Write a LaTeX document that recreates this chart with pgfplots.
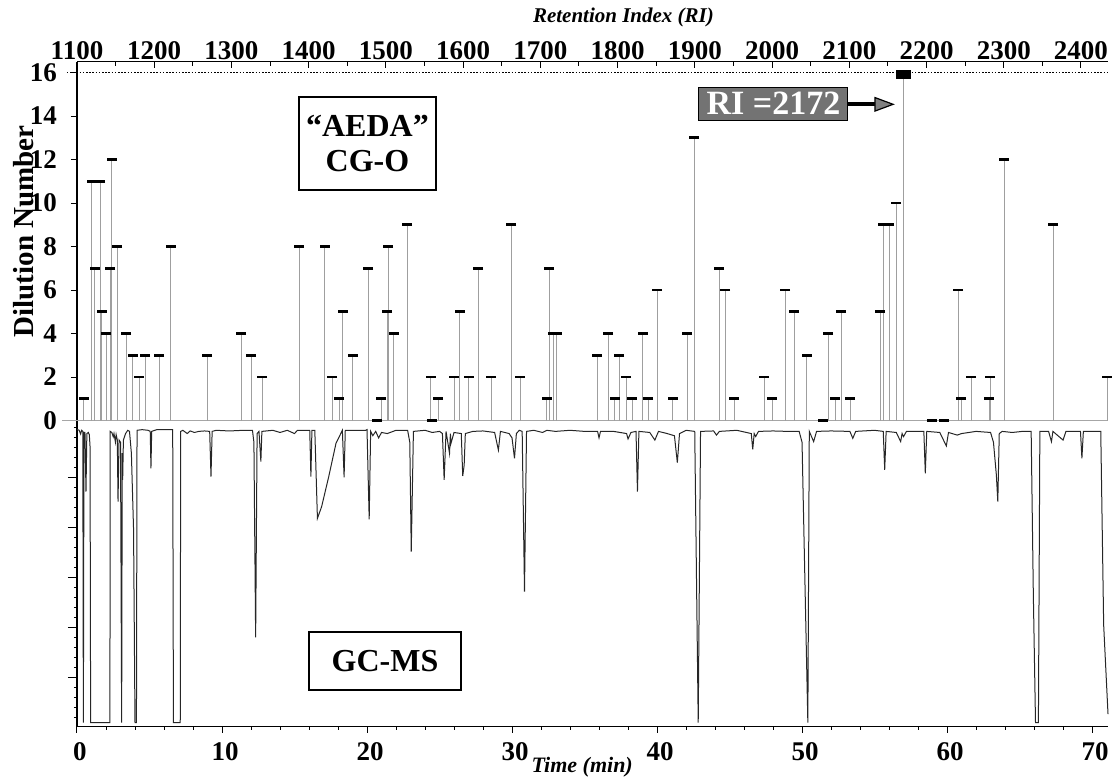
\documentclass[border=0pt]{standalone}
\usepackage{fontspec}
\setmainfont{Liberation Serif}
\usepackage{pgfplots}
\pgfplotsset{compat=1.18}
\usepackage{pgfplotstable}

% AEDA: time (min), dilution number
\pgfplotstableread{
t d
0.48 1
1.03 11
1.24 7
1.59 11
1.72 5
2.00 4
2.28 7
2.41 12
2.76 8
3.38 4
3.86 3
4.28 2
4.69 3
5.66 3
6.48 8
8.97 3
11.31 4
12.00 3
12.76 2
15.31 8
17.10 8
17.59 2
18.07 1
18.34 5
19.03 3
20.07 7
20.69 0
20.97 1
21.38 5
21.45 8
21.86 4
22.76 9
24.41 2
24.48 0
24.90 1
26.00 2
26.41 5
27.03 2
27.66 7
28.55 2
29.93 9
30.55 2
32.41 1
32.55 7
32.83 4
33.10 4
35.86 3
36.62 4
37.10 1
37.38 3
37.86 2
38.28 1
39.03 4
39.38 1
40.00 6
41.10 1
42.07 4
42.55 13
44.28 7
44.69 6
45.31 1
47.38 2
47.93 1
48.83 6
49.45 5
50.34 3
51.45 0
51.79 4
52.28 1
52.69 5
53.31 1
55.38 5
55.59 9
56.00 9
56.48 10
56.97 16
58.97 0
59.79 0
60.76 6
60.97 1
61.66 2
62.90 1
62.97 2
63.93 12
67.31 9
71.03 2
}\aeda

% GC-MS trace (drawn downwards)
\pgfplotstableread{
t s
0.00 -0.41
0.15 -0.45
0.25 -0.62
0.32 -0.45
0.40 -0.50
0.44 -13.89
0.48 -0.55
0.55 -0.55
0.62 -3.27
0.68 -0.60
0.78 -0.55
0.85 -0.65
0.90 -1.20
0.94 -13.89
2.27 -13.89
2.29 -0.50
2.40 -0.55
2.50 -0.75
2.55 -0.60
2.65 -1.00
2.70 -0.65
2.78 -0.90
2.83 -3.73
2.90 -0.90
3.00 -1.00
3.08 -13.89
3.12 -1.50
3.15 -2.73
3.20 -0.90
3.35 -0.60
3.50 -0.45
3.62 -0.50
3.75 -1.50
3.90 -5.00
4.00 -13.89
4.10 -13.89
4.14 -0.45
4.50 -0.42
4.90 -0.45
5.05 -0.50
5.10 -2.20
5.15 -0.50
5.50 -0.42
6.00 -0.42
6.60 -0.42
6.65 -13.89
7.12 -13.89
7.15 -0.50
7.30 -0.45
7.60 -0.60
7.80 -0.48
8.10 -0.55
8.40 -0.50
8.80 -0.48
9.15 -0.50
9.24 -2.58
9.32 -0.50
9.60 -0.45
10.50 -0.48
11.50 -0.45
12.10 -0.45
12.20 -1.00
12.32 -9.97
12.42 -0.60
12.55 -0.50
12.68 -1.89
12.75 -0.50
13.50 -0.45
14.00 -0.55
14.50 -0.45
15.00 -0.60
15.20 -0.45
16.05 -0.45
16.13 -2.58
16.20 -0.45
16.40 -0.45
16.58 -4.50
16.87 -3.96
17.36 -2.58
17.86 -1.05
18.30 -0.45
18.42 -2.61
18.50 -0.45
19.90 -0.45
20.00 -0.42
20.15 -4.54
20.25 -0.50
20.40 -0.70
20.60 -0.50
20.80 -0.80
21.00 -0.55
21.40 -0.60
22.00 -0.45
22.80 -0.45
22.95 -1.00
23.05 -6.03
23.20 -0.50
24.00 -0.45
24.50 -0.55
25.00 -0.50
25.20 -0.60
25.32 -2.73
25.45 -0.50
25.69 -1.51
25.75 -0.60
25.79 -1.05
26.00 -0.55
26.50 -0.60
26.60 -2.55
26.70 -2.05
26.78 -0.60
27.30 -0.50
28.00 -0.48
28.80 -0.55
29.06 -1.36
29.20 -0.50
29.80 -0.60
30.00 -0.80
30.17 -1.74
30.30 -0.60
30.50 -0.45
30.70 -0.50
30.86 -7.87
31.00 -0.50
31.50 -0.45
32.10 -0.55
32.40 -0.45
33.00 -0.50
34.00 -0.45
35.00 -0.50
35.90 -0.50
36.00 -0.80
36.10 -0.50
37.00 -0.50
37.90 -0.60
38.00 -0.85
38.20 -0.55
38.55 -0.50
38.65 -3.27
38.75 -0.50
39.50 -0.55
39.85 -0.90
40.10 -0.50
40.70 -0.60
41.20 -0.70
41.40 -1.94
41.55 -0.60
42.00 -0.45
42.60 -0.50
42.84 -13.89
43.00 -0.50
43.90 -0.48
44.10 -0.67
44.30 -0.50
45.50 -0.45
46.50 -0.60
46.60 -1.33
46.70 -0.60
46.80 -0.74
47.00 -0.50
48.00 -0.48
49.00 -0.50
49.80 -0.50
50.00 -1.00
50.40 -13.89
50.50 -0.50
50.80 -0.97
51.00 -0.50
52.00 -0.48
53.30 -0.50
53.50 -0.82
53.70 -0.50
55.00 -0.45
55.60 -0.50
55.70 -2.27
55.80 -0.50
56.50 -0.55
56.80 -0.97
56.90 -0.60
57.00 -0.74
57.20 -0.50
58.40 -0.50
58.50 -2.43
58.60 -0.50
59.50 -0.55
59.95 -1.17
60.10 -0.55
60.70 -0.67
61.00 -0.60
62.00 -0.50
63.00 -0.55
63.20 -1.00
63.40 -2.50
63.50 -3.73
63.60 -0.60
63.80 -0.50
64.50 -0.55
65.20 -0.50
65.80 -0.50
65.95 -8.00
66.10 -13.89
66.30 -13.89
66.40 -0.50
67.00 -0.50
67.20 -0.97
67.30 -0.50
68.00 -0.90
68.20 -0.50
69.20 -0.50
69.30 -1.74
69.40 -0.50
70.60 -0.50
70.80 -9.40
71.10 -13.50
}\gcms

\begin{document}
\begin{tikzpicture}
\useasboundingbox (-38.5pt,-25.15pt) rectangle (517.5pt,363.35pt);
\begin{axis}[
  at={(0,0)}, anchor=south west,
  width=515.5pt, height=332.5pt, scale only axis,
  xmin=0, xmax=71.1, ymin=-14.08, ymax=16.5,
  axis x line*=bottom, axis y line*=left,
  clip=false,
  tick align=outside,
  major tick length=3pt, minor tick length=1.5pt,
  xtick={0,10,...,70}, minor x tick num=4,
  ytick={0,2,...,16},
  minor ytick={-0.33,-0.79,...,-13.67},
  extra y ticks={-2.63,-4.93,-7.23,-9.53,-11.83},
  extra y tick labels={},
  extra y tick style={major tick length=4.5pt},
  /pgf/number format/assume math mode=true,
  tick label style={font=\fontsize{13.5}{14}\selectfont\bfseries},
  xticklabel style={yshift=-1.5pt, xshift=1.5pt},
  yticklabel style={xshift=-3.5pt},
  xlabel={\bfseries\itshape Time (min)},
  xlabel style={font=\fontsize{11}{12}\selectfont, at={(axis description cs:0.49,0)}, anchor=center, yshift=-20.5pt},
  ylabel={\bfseries Dilution Number},
  ylabel style={font=\fontsize{14.5}{15}\selectfont, at={(axis description cs:-0.0514,0.745)}, anchor=center},
  axis line style={black, line width=0.6pt},
  tick style={black, line width=0.5pt},
]
% baseline of the AEDA panel
\addplot[gray!70, line width=0.5pt] coordinates {(-1.0,0) (71.1,0)};
% 16 reference line
\addplot[black, line width=0.9pt, dash pattern=on 0.8pt off 0.8pt] coordinates {(-0.7,16) (71.1,16)};
% AEDA stems and caps
\addplot[ycomb, draw=gray!75, line width=0.5pt, mark=none] table[x=t,y=d] {\aeda};
\addplot[only marks, mark=-, mark size=2.5pt, mark options={line width=1.4pt, black}] table[x=t,y=d] {\aeda};
% RI 2172 marker
\addplot[only marks, mark=-, mark size=3.6pt, mark options={line width=4.3pt, black}] coordinates {(57.0,15.92)};
% GC-MS trace
\addplot[black!85, line width=0.5pt] table[x=t,y=s] {\gcms};

\node[draw, line width=0.8pt, fill=white, minimum width=68.5pt, minimum height=46.5pt, align=center,
      font=\fontsize{16}{17.5}\selectfont\bfseries] at (axis cs:20.03,12.74) {“AEDA”\\CG-O};
\node[draw, line width=0.8pt, fill=white, minimum width=76pt, minimum height=29pt,
      font=\fontsize{16}{17.5}\selectfont\bfseries] at (axis cs:21.24,-11.06) {GC-MS};
\node[draw=black, line width=0.5pt, fill=black!55, text=white, minimum width=74.5pt, minimum height=16.5pt, inner sep=0pt,
      font=\fontsize{17}{17}\selectfont\bfseries] at (axis cs:48.03,14.57) {RI =2172};
\draw[black, line width=2pt] (axis cs:53.17,14.54) -- (axis cs:55.10,14.54);
\filldraw[fill=black!50, draw=black, line width=0.6pt] (axis cs:55.03,14.85) -- (axis cs:56.28,14.54) -- (axis cs:55.03,14.23) -- cycle;
\end{axis}

\begin{axis}[
  at={(0,0)}, anchor=south west,
  width=515.5pt, height=332.5pt, scale only axis,
  xmin=1100, xmax=2435, ymin=-14.08, ymax=16.5,
  axis x line*=top, hide y axis,
  tick align=inside,
  major tick length=3pt, minor tick length=2pt,
  xtick={1100,1200,...,2400}, minor x tick num=1,
  /pgf/number format/assume math mode=true,
  /pgf/number format/1000 sep={},
  xticklabel style={font=\fontsize{13.5}{14}\selectfont\bfseries, inner sep=0pt, yshift=1pt},
  xlabel={\bfseries\itshape Retention Index (RI)},
  xlabel style={font=\fontsize{10.5}{12}\selectfont, at={(axis description cs:0.53,1)}, anchor=center, yshift=22.35pt},
  axis line style={black, line width=0.6pt},
  tick style={black, line width=0.5pt},
]
\end{axis}
\end{tikzpicture}
\end{document}
